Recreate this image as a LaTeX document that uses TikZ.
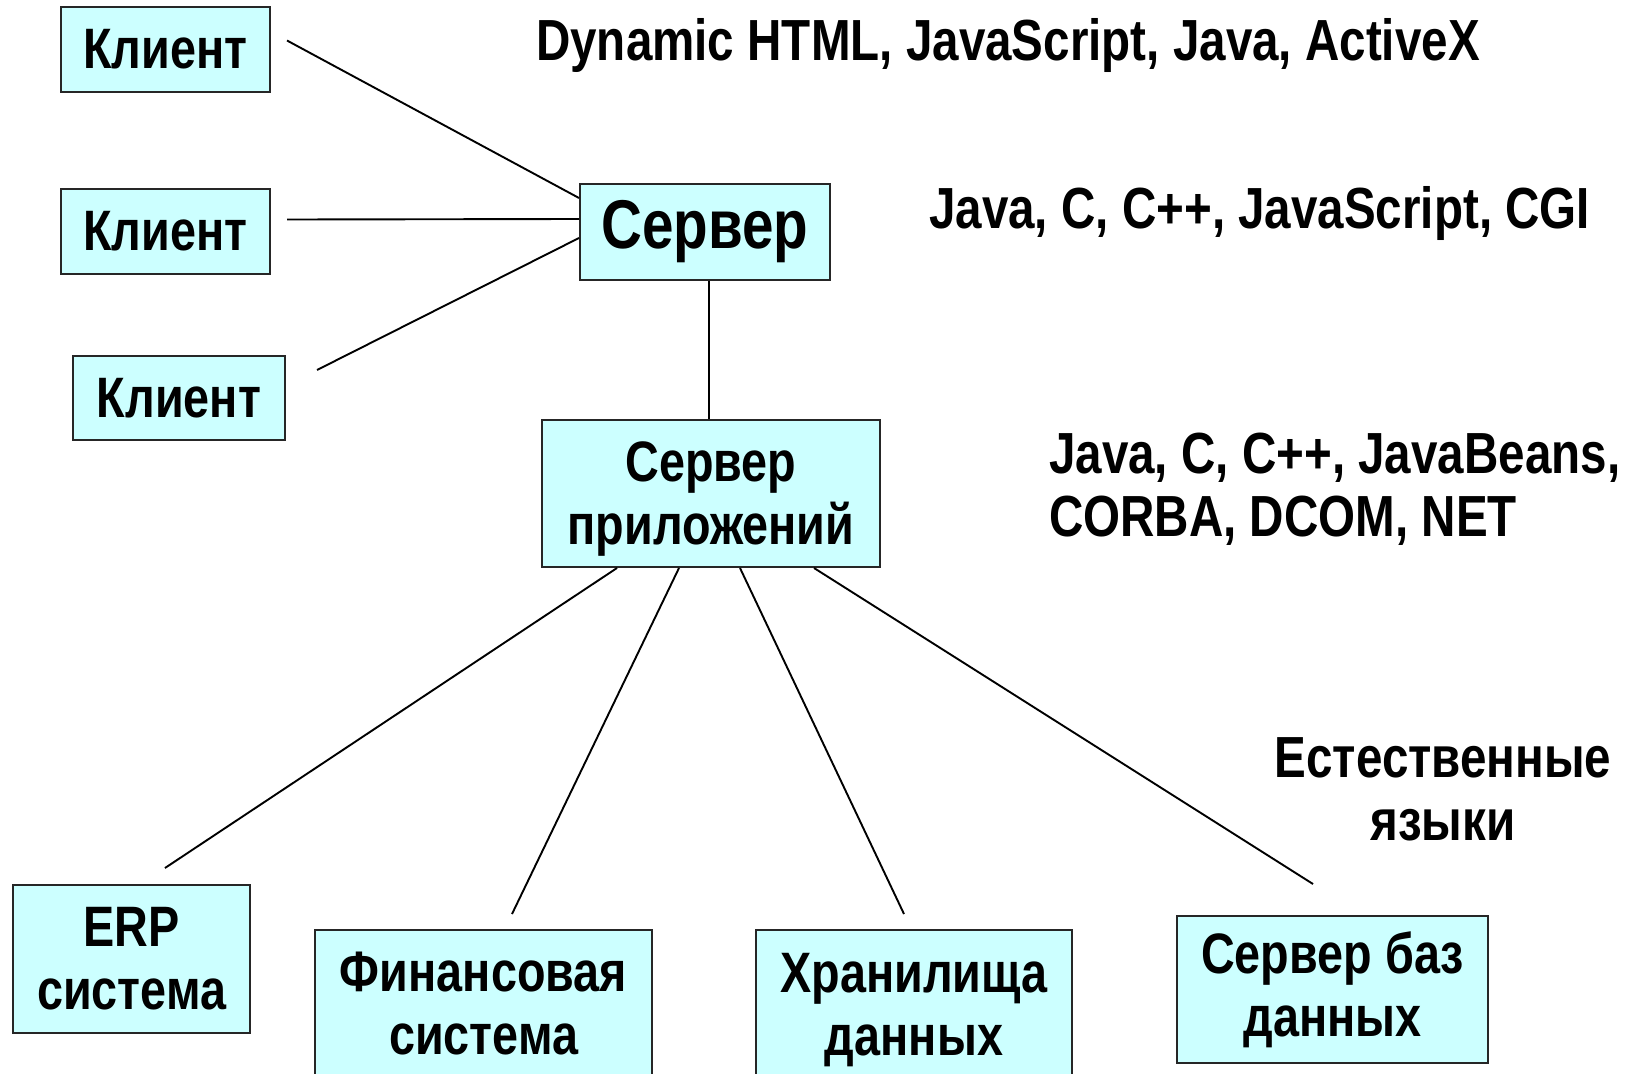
\documentclass[tikz,border=0pt]{standalone}
\usepackage{fontspec}
\newfontfamily\narrowfont[FakeStretch=0.82]{Liberation Sans}
\definecolor{boxfill}{HTML}{CCFFFF}
\begin{document}
\begin{tikzpicture}[x=1pt, y=-1pt,
    box/.style={draw=black!85, line width=2pt, fill=boxfill, inner sep=0pt, align=center,
      font=\narrowfont\bfseries\fontsize{57}{63}\selectfont},
    tech/.style={inner sep=0pt, align=left, font=\narrowfont\bfseries\fontsize{58}{63}\selectfont},
    link/.style={line width=1.9pt}]
    \useasboundingbox (0,0) rectangle (1637,1073);

    % clients and web server
    \node[box, minimum width=209pt, minimum height=85pt] (k1) at (165.5,49.5) {Клиент};
    \node[box, minimum width=209pt, minimum height=85pt] (k2) at (165.5,231.5) {Клиент};
    \node[box, minimum width=212pt, minimum height=84pt] (k3) at (179,398) {Клиент};
    \node[box, minimum width=250pt, minimum height=96pt, font=\narrowfont\bfseries\fontsize{69}{75}\selectfont] (srv) at (705,232) {Сервер};

    % application server and back ends
    \node[box, minimum width=338pt, minimum height=147pt, text depth=0pt] (app) at (711,493.5) {Сервер\\приложений};
    \node[box, minimum width=237pt, minimum height=148pt] (erp) at (131.5,959) {ERP\\система};
    \node[box, minimum width=337pt, minimum height=148pt] (fin) at (483.5,1004) {Финансовая\\система};
    \node[box, minimum width=316pt, minimum height=148pt, text depth=0pt] (store) at (914,1004) {Хранилища\\данных};
    \node[box, minimum width=311pt, minimum height=147pt] (dbs) at (1332.5,989.5) {Сервер баз\\данных};

    % technologies
    \node[tech, anchor=base west] (t1) at (536,60) {Dynamic HTML, JavaScript, Java, ActiveX};
    \node[tech, anchor=base west] (t2) at (929,228) {Java, C, C++, JavaScript, CGI};
    \node[tech, anchor=north west] (t3) at (1049,433) {Java, C, C++, JavaBeans,\\CORBA, DCOM, NET};
    \node[tech, align=center, anchor=north] (t4) at (1443,737) {Естественные\\языки};

    % free ends of the links
    \coordinate (k1-out) at ([xshift=16pt, yshift=9pt]k1.east);
    \coordinate (k2-out) at ([xshift=16pt, yshift=12pt]k2.east);
    \coordinate (k3-out) at ([xshift=31pt, yshift=28pt]k3.east);
    \coordinate (erp-in) at ([xshift=33.5pt, yshift=16pt]erp.north);
    \coordinate (fin-in) at ([xshift=28.5pt, yshift=15pt]fin.north);
    \coordinate (store-in) at ([xshift=-10pt, yshift=15pt]store.north);
    \coordinate (dbs-in) at ([xshift=-19.5pt, yshift=31pt]dbs.north);

    \draw[link] (k1-out) -- ([yshift=34pt]srv.west);
    \draw[link] (k2-out) -- ([yshift=13pt]srv.west);
    \draw[link] (k3-out) -- ([yshift=-6pt]srv.west);
    \draw[link] ([xshift=4pt]srv.south) -- ([xshift=-2pt]app.north);
    \draw[link] ([xshift=-94pt]app.south) -- (erp-in);
    \draw[link] ([xshift=-32pt]app.south) -- (fin-in);
    \draw[link] ([xshift=29pt]app.south) -- (store-in);
    \draw[link] ([xshift=103pt]app.south) -- (dbs-in);
\end{tikzpicture}
\end{document}
